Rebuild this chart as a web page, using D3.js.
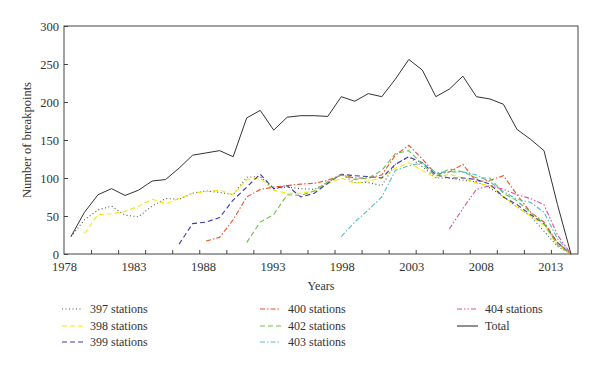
<!DOCTYPE html>
<html lang="en">

<head>
    <meta charset="utf-8">
    <style type="text/css">
        body { margin: 0; background: #fff; }
        text { font-family: "Liberation Serif", "DejaVu Serif", serif; fill: #333; }
        .axis path, .axis line { stroke: #444; }
    </style>
</head>

<body>
    <svg width="600" height="368"></svg>
    <script src="https://d3js.org/d3.v7.min.js" type="text/javascript"></script>

    <script type="text/javascript">
        // years 1978 .. 2015
        var years = [1978, 1979, 1980, 1981, 1982, 1983, 1984, 1985, 1986, 1987,
            1988, 1989, 1990, 1991, 1992, 1993, 1994, 1995, 1996, 1997,
            1998, 1999, 2000, 2001, 2002, 2003, 2004, 2005, 2006, 2007,
            2008, 2009, 2010, 2011, 2012, 2013, 2014, 2015];

        var s397 = [23, 45, 58, 63, 51, 49, 63, 73, 72, 80,
            83, 81, 78, 101, 102, 86, 88, 86, 85, 94,
            105, 94, 94, 90, 118, 128, 115, 100, 100, 97,
            95, 87, 75, 62, 50, 30, 10, 0];
        var s398 = [null, 27, 52, 53, 56, 63, 72, 66, 73, 80,
            82, 84, 78, 98, 100, 84, 80, 80, 83, 92,
            100, 93, 96, 100, 113, 120, 110, 100, 105, 100,
            93, 90, 75, 62, 50, 38, 12, 0];
        var s399 = [null, null, null, null, null, null, null, null, 13, 40,
            42, 48, 71, 88, 105, 86, 90, 75, 80, 93,
            105, 103, 102, 100, 118, 128, 120, 104, 100, 100,
            98, 92, 75, 65, 52, 40, 15, 0];
        var s400 = [null, null, null, null, null, null, null, null, null, null,
            17, 22, 45, 75, 85, 88, 90, 92, 93, 97,
            104, 100, 100, 104, 130, 143, 125, 105, 108, 118,
            95, 97, 103, 78, 55, 42, 15, 0];
        var s402 = [null, null, null, null, null, null, null, null, null, null,
            null, null, null, 15, 42, 52, 78, 77, 83, 95,
            104, 98, 100, 110, 132, 136, 118, 102, 112, 108,
            100, 100, 80, 70, 55, 40, 12, 0];
        var s403 = [null, null, null, null, null, null, null, null, null, null,
            null, null, null, null, null, null, null, null, null, null,
            23, 42, 58, 75, 110, 116, 120, 107, 108, 108,
            104, 95, 82, 72, 68, 55, 20, 0];
        var s404 = [null, null, null, null, null, null, null, null, null, null,
            null, null, null, null, null, null, null, null, null, null,
            null, null, null, null, null, null, null, null, 33, 60,
            85, 90, 85, 78, 73, 65, 25, 0];
        var total = [23, 55, 78, 86, 77, 84, 96, 98, 113, 130,
            133, 136, 128, 179, 189, 163, 180, 182, 182, 181,
            207, 201, 211, 207, 230, 256, 242, 207, 217, 234,
            207, 204, 197, 164, 151, 136, 65, 0];

        var xLabels = [1978, 1983, 1988, 1993, 1998, 2003, 2008, 2013];
        var yTicks = [0, 50, 100, 150, 200, 250, 300];

        var series = [
            { name: "397 stations", values: s397, color: "#555555", dash: "1,2.5" },
            { name: "398 stations", values: s398, color: "#f2ea00", dash: "5,3" },
            { name: "399 stations", values: s399, color: "#3a3aa8", dash: "5,3" },
            { name: "400 stations", values: s400, color: "#e8502a", dash: "5,2,1.5,2" },
            { name: "402 stations", values: s402, color: "#6cbf4a", dash: "5,3" },
            { name: "403 stations", values: s403, color: "#55bfc0", dash: "5,2,1.5,2" },
            { name: "404 stations", values: s404, color: "#d951b0", dash: "5,2,1.5,2,1.5,2" },
            { name: "Total", values: total, color: "#333333", dash: null }
        ];

        var svg = d3.select("svg"),
            pLeft = 64, pRight = 578, pTop = 26, pBottom = 254;

        // label axis and data positions don't share the same offset in the original
        var xAxisScale = d3.scaleLinear().domain([1978, 2015]).range([pLeft, pRight]);
        var x = d3.scaleLinear().domain([1978, 2015]).range([71, 571]);
        var y = d3.scaleLinear().domain([0, 300]).range([pBottom, pTop]);
        var tickIdx = d3.scaleLinear().domain([0, 19]).range([pLeft, pRight]);

        // frame
        svg.append("rect")
            .attr("x", pLeft).attr("y", pTop)
            .attr("width", pRight - pLeft).attr("height", pBottom - pTop)
            .attr("fill", "none").attr("stroke", "#444").attr("stroke-width", 1);

        // y axis
        var gy = svg.append("g").attr("class", "axis")
            .attr("transform", "translate(" + pLeft + ",0)")
            .call(d3.axisLeft(y).tickValues(yTicks).tickSize(-4).tickPadding(5));
        gy.select(".domain").remove();
        gy.selectAll("text").style("font-size", "12.5px").attr("fill", "#333");

        // x tick labels
        var gx = svg.append("g").attr("class", "axis")
            .attr("transform", "translate(0," + pBottom + ")")
            .call(d3.axisBottom(xAxisScale).tickValues(xLabels).tickFormat(d3.format("d")).tickSize(0).tickPadding(8));
        gx.select(".domain").remove();
        gx.selectAll("text").style("font-size", "12.5px").attr("fill", "#333");

        // x tick marks (evenly spaced, inward)
        var gxt = svg.append("g").attr("class", "axis")
            .attr("transform", "translate(0," + pBottom + ")")
            .call(d3.axisBottom(tickIdx).tickValues(d3.range(1, 19)).tickSize(-4).tickFormat(""));
        gxt.select(".domain").remove();

        // axis titles
        svg.append("text")
            .attr("x", (pLeft + pRight) / 2).attr("y", 290)
            .attr("text-anchor", "middle")
            .style("font-size", "12px")
            .text("Years");

        svg.append("text")
            .attr("transform", "translate(31," + ((pTop + pBottom) / 2) + ") rotate(-90)")
            .attr("text-anchor", "middle")
            .style("font-size", "12.5px")
            .text("Number of breakpoints");

        var line = d3.line()
            .defined(function (d) { return d != null; })
            .x(function (d, i) { return x(years[i]); })
            .y(function (d) { return y(d); });

        svg.append("g").selectAll("path")
            .data(series)
            .enter()
            .append("path")
            .attr("d", function (d) { return line(d.values); })
            .attr("fill", "none")
            .attr("stroke", function (d) { return d.color; })
            .attr("stroke-width", function (d) { return d.dash ? 1.1 : 1; })
            .attr("stroke-dasharray", function (d) { return d.dash; });

        // legend: three columns
        var colX = [62, 260, 457],
            rowY = [309, 326, 342];

        var leg = svg.append("g").selectAll("g")
            .data(series)
            .enter()
            .append("g")
            .attr("transform", function (d, i) {
                return "translate(" + colX[Math.floor(i / 3)] + "," + rowY[i % 3] + ")";
            });

        leg.append("line")
            .attr("x1", 0).attr("x2", 21)
            .attr("y1", 0).attr("y2", 0)
            .attr("stroke", function (d) { return d.color; })
            .attr("stroke-width", 1.1)
            .attr("stroke-dasharray", function (d) { return d.dash; });

        leg.append("text")
            .attr("x", 28).attr("y", 4)
            .style("font-size", "12px")
            .text(function (d) { return d.name; });
    </script>

</body>

</html>
